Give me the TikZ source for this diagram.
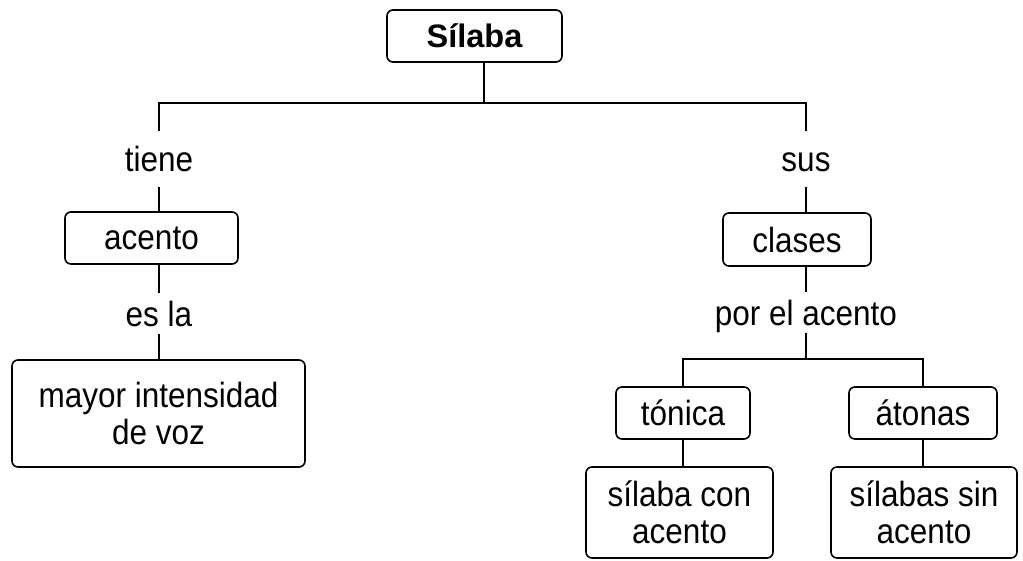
\documentclass[tikz,border=0pt]{standalone}
\usepackage{fontspec}
\setmainfont{Liberation Sans}[FakeStretch=0.9]
\newfontfamily\titlefont{Liberation Sans}
\begin{document}
\begin{tikzpicture}[x=1pt,y=-1pt,
  box/.style={draw, line width=1.6pt, rounded corners=6pt, inner sep=0pt, align=center,
    font=\fontsize{35}{37}\selectfont},
  lbl/.style={inner sep=0pt, text height=25pt, text depth=0pt, font=\fontsize{35}{37}\selectfont},
  conn/.style={line width=1.6pt}]
\useasboundingbox (0,0) rectangle (1023,560);
% boxes
\node[box, minimum width=175pt, minimum height=52pt, font=\titlefont\fontsize{32.5}{37}\selectfont\bfseries] (silaba) at (474.5,36) {Sílaba};
\node[box, minimum width=173pt, minimum height=52pt] (acento) at (151.5,238) {acento};
\node[box, minimum width=293pt, minimum height=107pt] (mayor) at (158.5,413.5) {mayor intensidad\\de voz};
\node[box, minimum width=148pt, minimum height=53pt] (clases) at (797,239.5) {clases};
\node[box, minimum width=134pt, minimum height=52pt] (tonica) at (683,413) {tónica};
\node[box, minimum width=148pt, minimum height=52pt] (atonas) at (923,413) {átonas};
\node[box, minimum width=187pt, minimum height=91pt] (silcon) at (679.5,512.5) {sílaba con\\acento};
\node[box, minimum width=186pt, minimum height=91pt] (silsin) at (924,512.5) {sílabas sin\\acento};
% labels
\node[lbl, minimum height=55pt] (tiene) at (159,159) {tiene};
\node[lbl, minimum height=55pt] (sus) at (806,159) {sus};
\node[lbl, minimum height=41pt] (esla) at (159,313.5) {es la};
\node[lbl, minimum height=41pt] (porel) at (806,312.5) {por el acento};
% junctions
\coordinate (j0) at (484,103);
\coordinate (j1) at (806,359);
% connectors
\draw[conn] (j0 |- silaba.south) -- (j0);
\draw[conn] (tiene.north) |- (j0) -| (sus.north);
\draw[conn] (tiene.south) -- (tiene.south |- acento.north);
\draw[conn] (sus.south) -- (sus.south |- clases.north);
\draw[conn] (esla.north |- acento.south) -- (esla.north);
\draw[conn] (esla.south) -- (esla.south |- mayor.north);
\draw[conn] (porel.north |- clases.south) -- (porel.north);
\draw[conn] (porel.south) -- (j1);
\draw[conn] (tonica.north) |- (j1) -| (atonas.north);
\draw[conn] (tonica.south) -- (tonica.south |- silcon.north);
\draw[conn] (atonas.south) -- (atonas.south |- silsin.north);
\end{tikzpicture}
\end{document}
